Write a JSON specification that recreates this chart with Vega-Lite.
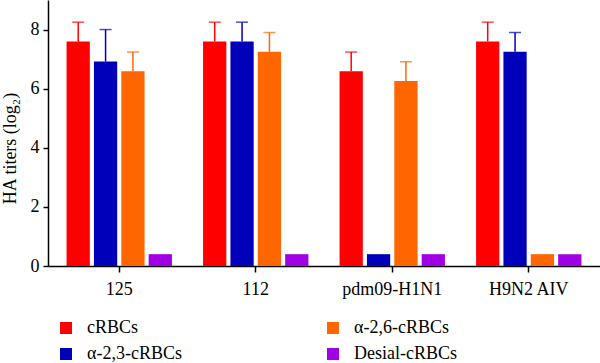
{
  "$schema": "https://vega.github.io/schema/vega-lite/v6.json",
  "autosize": {"type": "none"},
  "padding": {"left": 48, "top": 0, "right": 0, "bottom": 97},
  "width": 552,
  "height": 266,
  "config": {
    "view": {"stroke": null},
    "font": "'Liberation Serif', 'Times New Roman', serif",
    "axis": {"grid": false, "domainColor": "#000", "tickColor": "#000", "domainWidth": 1.5, "tickWidth": 1.5, "labelColor": "#000", "titleColor": "#000", "labelFont": "'Liberation Serif', 'Times New Roman', serif", "titleFont": "'Liberation Serif', 'Times New Roman', serif", "labelFontSize": 18, "titleFontSize": 18, "titleFontWeight": "normal"}
  },
  "data": {"values": [
    {"group": "125", "cell": "cRBCs", "mean": 7.6, "upper": 8.25},
    {"group": "125", "cell": "α-2,3-cRBCs", "mean": 6.92, "upper": 8.0},
    {"group": "125", "cell": "α-2,6-cRBCs", "mean": 6.59, "upper": 7.24},
    {"group": "125", "cell": "Desial-cRBCs", "mean": 0.4, "upper": null},
    {"group": "112", "cell": "cRBCs", "mean": 7.6, "upper": 8.25},
    {"group": "112", "cell": "α-2,3-cRBCs", "mean": 7.6, "upper": 8.25},
    {"group": "112", "cell": "α-2,6-cRBCs", "mean": 7.25, "upper": 7.9},
    {"group": "112", "cell": "Desial-cRBCs", "mean": 0.4, "upper": null},
    {"group": "pdm09-H1N1", "cell": "cRBCs", "mean": 6.59, "upper": 7.24},
    {"group": "pdm09-H1N1", "cell": "α-2,3-cRBCs", "mean": 0.4, "upper": null},
    {"group": "pdm09-H1N1", "cell": "α-2,6-cRBCs", "mean": 6.26, "upper": 6.91},
    {"group": "pdm09-H1N1", "cell": "Desial-cRBCs", "mean": 0.4, "upper": null},
    {"group": "H9N2 AIV", "cell": "cRBCs", "mean": 7.6, "upper": 8.25},
    {"group": "H9N2 AIV", "cell": "α-2,3-cRBCs", "mean": 7.25, "upper": 7.9},
    {"group": "H9N2 AIV", "cell": "α-2,6-cRBCs", "mean": 0.4, "upper": null},
    {"group": "H9N2 AIV", "cell": "Desial-cRBCs", "mean": 0.4, "upper": null}
  ]},
  "encoding": {
    "x": {"field": "group", "type": "nominal", "sort": ["125", "112", "pdm09-H1N1", "H9N2 AIV"],
      "scale": {"paddingInner": 0.2, "paddingOuter": 0.122},
      "axis": {"title": null, "labelAngle": 0, "tickSize": 6, "labelPadding": 8}},
    "xOffset": {"field": "cell", "type": "nominal", "sort": ["cRBCs", "α-2,3-cRBCs", "α-2,6-cRBCs", "Desial-cRBCs"],
      "scale": {"paddingInner": 0.15, "paddingOuter": 0.07}}
  },
  "layer": [
    {
      "mark": {"type": "bar"},
      "encoding": {
        "y": {"field": "mean", "type": "quantitative", "scale": {"domain": [0, 9], "nice": false},
          "axis": {"title": "HA titers (log₂)", "values": [0, 2, 4, 6, 8], "tickSize": 5, "labelPadding": 4, "titleX": -38, "titleY": 148, "titleBaseline": "middle", "titleAngle": -90}},
        "color": {"field": "cell", "type": "nominal",
          "scale": {"domain": ["cRBCs", "α-2,3-cRBCs", "α-2,6-cRBCs", "Desial-cRBCs"], "range": ["#FF0000", "#0000BB", "#FF6600", "#A100E6"]},
          "legend": {"title": null, "orient": "none", "legendX": 9, "legendY": 319, "columns": 2, "columnPadding": 142, "rowPadding": 8, "symbolType": "square", "symbolSize": 144, "symbolStrokeWidth": 0, "labelFont": "'Liberation Serif', 'Times New Roman', serif", "labelFontSize": 18, "labelColor": "#000", "labelOffset": 12}}
      }
    },
    {
      "transform": [{"filter": "datum.upper != null"}],
      "mark": {"type": "rule", "strokeWidth": 1.5},
      "encoding": {
        "y": {"field": "mean", "type": "quantitative"},
        "y2": {"field": "upper"},
        "color": {"field": "cell", "type": "nominal", "legend": null}
      }
    },
    {
      "transform": [{"filter": "datum.upper != null"}],
      "mark": {"type": "tick", "thickness": 1.5, "size": 12, "orient": "horizontal"},
      "encoding": {
        "y": {"field": "upper", "type": "quantitative"},
        "color": {"field": "cell", "type": "nominal", "legend": null}
      }
    }
  ]
}
